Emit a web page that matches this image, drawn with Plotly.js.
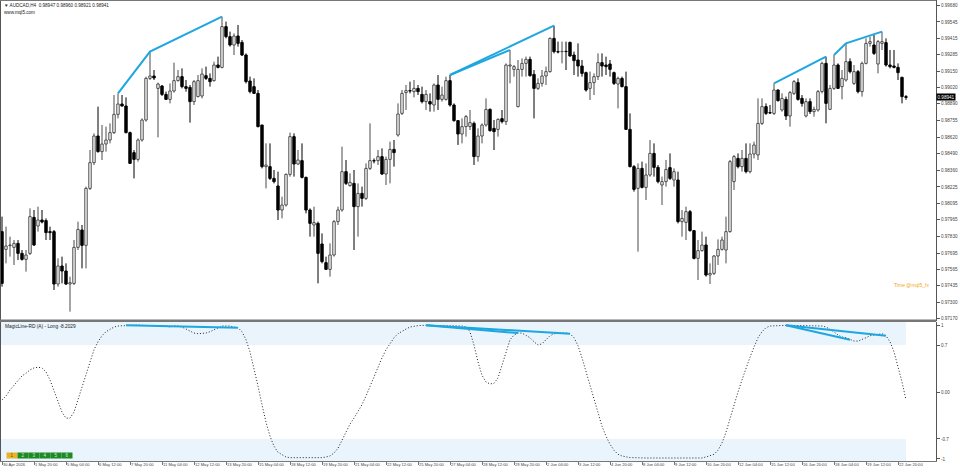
<!DOCTYPE html>
<html>
<head>
<meta charset="utf-8">
<script src="https://cdn.plot.ly/plotly-3.0.1.min.js"></script>
<style>html,body{margin:0;padding:0;background:#fff;}#chart{width:960px;height:472px;}</style>
</head>
<body>
<div id="chart"></div>
<script>
// ---------------- DATA ----------------
const openP = [0.97867,0.97725,0.97755,0.97741,0.97773,0.97693,0.97645,0.97693,0.97981,0.97912,
0.97960,0.97955,0.97867,0.97867,0.97448,0.97592,0.97552,0.97448,0.97453,0.97741,
0.97880,0.97757,0.98213,0.98419,0.98632,0.98507,0.98568,0.98600,0.98659,0.98805,
0.98888,0.98872,0.98659,0.98499,0.98445,0.98600,0.98760,0.99093,0.99112,0.99013,
0.99032,0.98965,0.98925,0.98992,0.99075,0.99107,0.99027,0.99021,0.98907,0.98947,
0.98952,0.99115,0.99093,0.99075,0.99200,0.99181,0.99507,0.99427,0.99360,0.99432,
0.99381,0.99280,0.99072,0.99027,0.98973,0.98720,0.98387,0.98387,0.98293,0.98232,
0.98040,0.98080,0.98325,0.98627,0.98408,0.98435,0.98301,0.98040,0.97920,0.97933,
0.97768,0.97619,0.97565,0.97680,0.97947,0.98040,0.98347,0.98235,0.98253,0.98067,
0.98173,0.98133,0.98373,0.98435,0.98435,0.98467,0.98328,0.98445,0.98525,0.98640,
0.98813,0.98979,0.98995,0.98987,0.99013,0.98965,0.98907,0.98907,0.98880,0.99040,
0.98925,0.98925,0.99075,0.98880,0.98755,0.98648,0.98707,0.98707,0.98733,0.98467,
0.98632,0.98720,0.98845,0.98693,0.98685,0.98771,0.98747,0.99192,0.99165,0.98867,
0.99165,0.99213,0.99245,0.99125,0.99013,0.99053,0.99112,0.99147,0.99413,0.99307,
0.99307,0.99309,0.99381,0.99280,0.99240,0.99192,0.99139,0.99013,0.99059,0.99107,
0.99219,0.99200,0.99208,0.99139,0.99048,0.99093,0.99027,0.98685,0.98387,0.98213,
0.98373,0.98221,0.98320,0.98493,0.98381,0.98240,0.98267,0.98379,0.98280,0.98280,
0.97947,0.97941,0.98027,0.97875,0.97653,0.97715,0.97760,0.97520,0.97533,0.97672,
0.97725,0.97720,0.97867,0.98267,0.98453,0.98387,0.98453,0.98347,0.98488,0.98480,
0.98733,0.98867,0.98819,0.98813,0.99000,0.98840,0.98925,0.98792,0.98973,0.99059,
0.98933,0.98792,0.98907,0.98827,0.98840,0.98987,0.99213,0.98845,0.99013,0.99200,
0.99027,0.99080,0.99227,0.99053,0.99147,0.98987,0.99213,0.99373,0.99360,0.99208,
0.99373,0.99379,0.99200,0.99192,0.99181,0.99101,0.98947];
const highP = [0.97987,0.97907,0.97827,0.97800,0.97800,0.97720,0.97720,0.98053,0.98040,0.98067,
0.98040,0.97973,0.97907,0.97880,0.97653,0.97667,0.97613,0.97507,0.97800,0.97947,
0.97920,0.98227,0.98520,0.98653,0.98867,0.98720,0.98707,0.98733,0.98960,0.98973,
0.98960,0.98941,0.98667,0.98520,0.98613,0.98773,0.99107,0.99307,0.99160,0.99059,
0.99040,0.98987,0.99053,0.99219,0.99160,0.99173,0.99080,0.99040,0.99080,0.99120,
0.99173,0.99187,0.99133,0.99227,0.99267,0.99587,0.99547,0.99467,0.99453,0.99520,
0.99400,0.99293,0.99107,0.99093,0.99000,0.98720,0.98573,0.98573,0.98360,0.98347,
0.98147,0.98333,0.98659,0.98653,0.98520,0.98573,0.98307,0.98053,0.98067,0.97947,
0.97853,0.97667,0.97773,0.97960,0.98067,0.98547,0.98440,0.98333,0.98360,0.98253,
0.98227,0.98413,0.98733,0.98453,0.98520,0.98533,0.98467,0.98587,0.98600,0.98893,
0.99000,0.99040,0.99067,0.99080,0.99040,0.99027,0.99000,0.98973,0.99053,0.99120,
0.99027,0.99107,0.99120,0.98893,0.98760,0.98773,0.98800,0.98840,0.98747,0.98693,
0.98733,0.98933,0.98853,0.98760,0.98773,0.98840,0.99213,0.99320,0.99200,0.99240,
0.99253,0.99267,0.99267,0.99160,0.99093,0.99160,0.99187,0.99421,0.99515,0.99387,
0.99387,0.99387,0.99387,0.99307,0.99373,0.99240,0.99147,0.99147,0.99133,0.99293,
0.99293,0.99267,0.99240,0.99147,0.99107,0.99107,0.99147,0.98813,0.98400,0.98413,
0.98427,0.98413,0.98600,0.98573,0.98400,0.98307,0.98440,0.98493,0.98373,0.98347,
0.98040,0.98067,0.98040,0.97880,0.97800,0.97867,0.97827,0.97613,0.97680,0.97805,
0.97827,0.97987,0.98440,0.98480,0.98493,0.98520,0.98573,0.98573,0.98587,0.98933,
0.98933,0.98893,0.98880,0.99053,0.99005,0.98973,0.98947,0.98992,0.99080,0.99093,
0.98960,0.98933,0.98933,0.98867,0.99000,0.99227,0.99267,0.99040,0.99280,0.99213,
0.99160,0.99373,0.99253,0.99200,0.99160,0.99227,0.99413,0.99427,0.99440,0.99400,
0.99467,0.99413,0.99320,0.99320,0.99213,0.99107,0.98960];
const lowP = [0.97427,0.97613,0.97667,0.97600,0.97640,0.97635,0.97547,0.97680,0.97752,0.97867,
0.97933,0.97800,0.97800,0.97400,0.97427,0.97453,0.97440,0.97227,0.97440,0.97720,
0.97573,0.97573,0.98200,0.98400,0.98499,0.98440,0.98507,0.98573,0.98648,0.98773,
0.98867,0.98653,0.98408,0.98293,0.98427,0.98587,0.98747,0.99080,0.99080,0.98621,
0.98952,0.98920,0.98893,0.98979,0.99067,0.99013,0.98987,0.98739,0.98880,0.98941,
0.98933,0.99080,0.99027,0.99067,0.99173,0.99173,0.99413,0.99347,0.99280,0.99347,
0.99272,0.99053,0.98973,0.98968,0.98701,0.98373,0.98213,0.98280,0.98253,0.97960,
0.97973,0.98067,0.98307,0.98307,0.98400,0.98293,0.98013,0.97827,0.97827,0.97453,
0.97613,0.97560,0.97507,0.97667,0.97920,0.98027,0.98240,0.98227,0.97720,0.97827,
0.98067,0.98120,0.98360,0.98413,0.98400,0.98320,0.98240,0.98253,0.98387,0.98627,
0.98800,0.98840,0.98973,0.98941,0.98960,0.98893,0.98840,0.98827,0.98827,0.98840,
0.98907,0.98915,0.98867,0.98747,0.98560,0.98573,0.98627,0.98680,0.98400,0.98427,
0.98573,0.98707,0.98667,0.98520,0.98627,0.98733,0.98720,0.99053,0.99107,0.98861,
0.99107,0.99107,0.99107,0.98773,0.99000,0.99027,0.99040,0.99139,0.99293,0.99293,
0.99213,0.99160,0.99267,0.99120,0.99107,0.99107,0.98987,0.98920,0.98960,0.99080,
0.99107,0.99120,0.99107,0.99040,0.98853,0.99021,0.98680,0.98381,0.98187,0.97707,
0.98213,0.98120,0.98307,0.98307,0.98253,0.98080,0.98227,0.98280,0.98227,0.97933,
0.97827,0.97800,0.97867,0.97645,0.97480,0.97707,0.97507,0.97448,0.97520,0.97600,
0.97715,0.97613,0.97859,0.98200,0.98373,0.98347,0.98333,0.98333,0.98453,0.98440,
0.98720,0.98800,0.98808,0.98800,0.98907,0.98827,0.98760,0.98707,0.98960,0.98915,
0.98867,0.98781,0.98808,0.98787,0.98827,0.98973,0.98733,0.98840,0.99000,0.99008,
0.98925,0.99067,0.99133,0.99040,0.98973,0.98947,0.99205,0.99347,0.99280,0.99133,
0.99320,0.99187,0.99173,0.99173,0.99080,0.98893,0.98921];
const closeP = [0.97453,0.97752,0.97760,0.97773,0.97693,0.97645,0.97680,0.97987,0.97760,0.97960,
0.97944,0.97859,0.97859,0.97448,0.97592,0.97552,0.97448,0.97459,0.97741,0.97885,
0.97757,0.98213,0.98419,0.98632,0.98507,0.98568,0.98600,0.98659,0.98805,0.98888,
0.98872,0.98659,0.98413,0.98445,0.98600,0.98760,0.99093,0.99112,0.99096,0.99048,
0.98965,0.98925,0.98992,0.99075,0.99107,0.99027,0.99013,0.98907,0.99067,0.99075,
0.99128,0.99093,0.99067,0.99200,0.99181,0.99507,0.99427,0.99360,0.99432,0.99373,
0.99280,0.99067,0.98987,0.98973,0.98707,0.98387,0.98400,0.98293,0.98267,0.98040,
0.98080,0.98325,0.98627,0.98408,0.98440,0.98301,0.98040,0.97933,0.97939,0.97693,
0.97627,0.97565,0.97680,0.97947,0.98040,0.98347,0.98253,0.98261,0.98067,0.98173,
0.98133,0.98373,0.98435,0.98432,0.98467,0.98328,0.98445,0.98525,0.98499,0.98808,
0.98973,0.98995,0.98992,0.99013,0.98987,0.98907,0.98965,0.98888,0.99040,0.98925,
0.98960,0.99075,0.98880,0.98755,0.98648,0.98707,0.98787,0.98739,0.98467,0.98632,
0.98720,0.98845,0.98675,0.98667,0.98765,0.98747,0.99200,0.99200,0.99187,0.99165,
0.99213,0.99245,0.99115,0.99013,0.99053,0.99112,0.99147,0.99413,0.99307,0.99304,
0.99309,0.99307,0.99272,0.99235,0.99192,0.99133,0.99000,0.99059,0.99107,0.99219,
0.99192,0.99187,0.99165,0.99053,0.99093,0.99027,0.98685,0.98387,0.98205,0.98373,
0.98221,0.98320,0.98493,0.98381,0.98267,0.98267,0.98365,0.98293,0.98347,0.97947,
0.97973,0.98027,0.97875,0.97653,0.97715,0.97760,0.97520,0.97533,0.97672,0.97725,
0.97800,0.97867,0.98427,0.98467,0.98387,0.98453,0.98347,0.98488,0.98560,0.98733,
0.98867,0.98813,0.98816,0.99000,0.98915,0.98933,0.98792,0.98979,0.99067,0.98925,
0.98893,0.98907,0.98827,0.98845,0.98987,0.99213,0.98893,0.99013,0.99200,0.99013,
0.99093,0.99227,0.99147,0.99147,0.98987,0.99213,0.99373,0.99387,0.99293,0.99387,
0.99387,0.99200,0.99187,0.99181,0.99139,0.98947,0.98941];

// MagicLine-RD oscillator values (per bar)
const magicLine = [-0.12,-0.06,0.03,0.10,0.18,0.24,0.28,0.33,0.36,0.37,
0.36,0.30,0.18,0.03,-0.15,-0.30,-0.39,-0.39,-0.30,-0.12,
0.06,0.25,0.45,0.63,0.75,0.84,0.90,0.94,0.97,0.985,
0.99,0.995,1.0,1.0,1.0,0.995,0.995,0.99,0.99,0.99,
0.99,0.985,0.97,0.985,0.985,0.97,0.94,0.91,0.88,0.87,
0.87,0.88,0.90,0.93,0.96,0.985,0.985,0.985,0.97,0.96,
0.90,0.78,0.60,0.36,0.09,-0.19,-0.45,-0.66,-0.81,-0.90,
-0.94,-0.97,-0.98,-0.98,-0.985,-0.985,-0.985,-0.985,-0.985,-0.98,
-0.98,-0.97,-0.955,-0.91,-0.84,-0.72,-0.60,-0.48,-0.39,-0.30,
-0.19,-0.06,0.09,0.24,0.39,0.51,0.63,0.73,0.81,0.87,
0.91,0.94,0.97,0.985,0.99,0.995,0.995,0.995,0.995,0.995,
0.995,0.99,0.99,0.99,0.99,0.985,0.97,0.90,0.70,0.45,
0.25,0.15,0.12,0.13,0.21,0.39,0.60,0.78,0.85,0.88,
0.88,0.85,0.81,0.75,0.70,0.72,0.78,0.84,0.87,0.88,
0.88,0.88,0.87,0.81,0.69,0.51,0.30,0.09,-0.12,-0.33,
-0.51,-0.66,-0.78,-0.87,-0.93,-0.955,-0.97,-0.98,-0.98,-0.985,
-0.985,-0.985,-0.985,-0.985,-0.985,-0.985,-0.985,-0.985,-0.985,-0.985,
-0.985,-0.985,-0.985,-0.985,-0.985,-0.985,-0.97,-0.955,-0.93,-0.87,
-0.76,-0.60,-0.39,-0.18,0.0,0.18,0.36,0.52,0.67,0.81,
0.90,0.96,0.985,0.99,0.995,0.995,0.995,0.995,0.995,0.995,
0.995,0.99,0.99,0.99,0.99,0.985,0.97,0.94,0.90,0.85,
0.82,0.81,0.78,0.76,0.76,0.78,0.81,0.84,0.85,0.87,
0.87,0.84,0.75,0.60,0.39,0.15,-0.12];

// divergence lines (bar indices) on price highs and on the oscillator
const priceDivBars = [[29,37,55],[112,127],[112,138],[193,206],[208,211,220]];
const oscDivBars = [[31,59],[106,129],[106,142],[196,212],[196,221]];

const timeLabels = ['30 Apr 2026','1 May 20:00','5 May 04:00','6 May 12:00','7 May 20:00','11 May 04:00',
'12 May 12:00','13 May 20:00','15 May 04:00','18 May 12:00','19 May 20:00','21 May 04:00','22 May 12:00',
'25 May 20:00','27 May 04:00','28 May 12:00','29 May 20:00','2 Jun 04:00','3 Jun 12:00','4 Jun 20:00',
'8 Jun 04:00','9 Jun 12:00','10 Jun 20:00','12 Jun 04:00','15 Jun 12:00','16 Jun 20:00','18 Jun 04:00',
'19 Jun 12:00','22 Jun 20:00'];
const timeLabelBars = [0,8,16,24,32,40,48,56,64,72,80,88,96,104,112,120,128,136,144,152,160,168,176,184,192,200,208,216,224];

const priceTicks = [0.99680,0.99545,0.99415,0.99285,0.99150,0.99020,0.98890,0.98755,0.98620,0.98490,
0.98360,0.98225,0.98095,0.97965,0.97830,0.97695,0.97565,0.97435,0.97300,0.97170];
const oscTicks = [1,0.7,0,-0.7,-1];
const oscTickText = ['1','0.7','0.00','-0.7','-1'];
const lastPrice = 0.98941;
const headerText = '\u25BC AUDCAD,H4  0.98947 0.98960 0.98921 0.98941';

// ---------------- LAYOUT HELPERS ----------------
const W = 960, H = 472;
const M = {l:1, r:24, t:0, b:11};
const PW = W - M.l - M.r, PH = H - M.t - M.b;
const fx = px => (px - M.l) / PW;
const fy = py => 1 - (py - M.t) / PH;
const FONT = 'Liberation Sans, Arial, sans-serif';
const TXT = '#444';
const BLUE = '#1ea6e0';
const UPC = '#4a4a4a';

const bars = openP.map((_, i) => i);
const isUp = bars.map(i => closeP[i] >= openP[i]);

function wickXY(sel) {
  const x = [], y = [];
  bars.forEach(i => {
    if (!sel(i)) return;
    const top = Math.max(openP[i], closeP[i]), bot = Math.min(openP[i], closeP[i]);
    x.push(i, i, null, i, i, null);
    y.push(highP[i], top, null, bot, lowP[i], null);
  });
  return {x, y};
}

const traces = [];
traces.push({
  type: 'bar', x: bars, base: bars.map(i => Math.min(openP[i], closeP[i])),
  y: bars.map(i => Math.abs(closeP[i] - openP[i])), width: 0.6, xaxis: 'x', yaxis: 'y',
  marker: {color: bars.map(i => isUp[i] ? '#ffffff' : '#000000'),
           line: {color: bars.map(i => isUp[i] ? UPC : '#000000'), width: 1}},
  hoverinfo: 'skip', showlegend: false
});
const wu = wickXY(i => isUp[i]), wd = wickXY(i => !isUp[i]);
traces.push({type: 'scatter', mode: 'lines', x: wu.x, y: wu.y, xaxis: 'x', yaxis: 'y',
  line: {color: UPC, width: 1}, hoverinfo: 'skip', showlegend: false, connectgaps: false});
traces.push({type: 'scatter', mode: 'lines', x: wd.x, y: wd.y, xaxis: 'x', yaxis: 'y',
  line: {color: '#000', width: 1}, hoverinfo: 'skip', showlegend: false, connectgaps: false});
priceDivBars.forEach(seg => {
  traces.push({type: 'scatter', mode: 'lines', x: seg, y: seg.map(i => highP[i]),
    xaxis: 'x', yaxis: 'y', line: {color: BLUE, width: 2}, hoverinfo: 'skip', showlegend: false});
});
traces.push({type: 'scatter', mode: 'lines', x: bars, y: magicLine, xaxis: 'x', yaxis: 'y2',
  line: {color: '#222', width: 1, dash: '1px,2px'}, hoverinfo: 'skip', showlegend: false});
oscDivBars.forEach(seg => {
  traces.push({type: 'scatter', mode: 'lines', x: seg, y: seg.map(i => magicLine[i]),
    xaxis: 'x', yaxis: 'y2', line: {color: BLUE, width: 2}, hoverinfo: 'skip', showlegend: false});
});

const lastBar = bars.length - 1;
const shapes = [
  {type:'rect', xref:'x', yref:'y2', x0:-0.25, x1:lastBar, y0:0.7, y1:1.05, fillcolor:'#e9f4fd', line:{width:0}, layer:'below'},
  {type:'rect', xref:'x', yref:'y2', x0:-0.25, x1:lastBar, y0:-1.04, y1:-0.7, fillcolor:'#e9f4fd', line:{width:0}, layer:'below'},
  {type:'rect', xref:'paper', yref:'paper', x0:fx(0), x1:fx(936), y0:fy(322), y1:fy(319.5), fillcolor:'#777', line:{width:0}},
  {type:'line', xref:'paper', yref:'paper', x0:fx(0), x1:fx(936), y0:fy(0.5), y1:fy(0.5), line:{color:'#777', width:1}},
];

const annotations = [
  {xref:'paper', yref:'paper', x:fx(2), y:fy(5), xanchor:'left', yanchor:'middle', showarrow:false,
   text: headerText, font:{family:FONT, size:4.6, color:'#222'}},
  {xref:'paper', yref:'paper', x:fx(2), y:fy(13), xanchor:'left', yanchor:'middle', showarrow:false,
   text: 'www.mql5.com', font:{family:FONT, size:4.6, color:'#222'}},
  {xref:'paper', yref:'paper', x:fx(3), y:fy(326), xanchor:'left', yanchor:'middle', showarrow:false,
   text: 'MagicLine-RD (A) - Long -8.2029', font:{family:FONT, size:4.8, color:'#222'}},
  {xref:'paper', yref:'paper', x:fx(931), y:fy(285), xanchor:'right', yanchor:'middle', showarrow:false,
   text: 'Time @mql5_fx', font:{family:FONT, size:5, color:'#f5a623'}},
  {xref:'paper', yref:'y', x:1, y:lastPrice, xanchor:'left', yanchor:'middle', showarrow:false,
   text: lastPrice.toFixed(5), bgcolor:'#000', borderpad:0.5, font:{family:FONT, size:4.6, color:'#fff'}},
];
['1','2','3','4','5','6'].forEach((t, k) => {
  annotations.push({xref:'paper', yref:'paper', x:fx(11.5 + 11*k), y:fy(455), xanchor:'center', yanchor:'middle',
    showarrow:false, text:t, width:10, height:5, borderpad:0,
    bgcolor: k === 0 ? '#e8b428' : '#1f8a24', font:{family:FONT, size:4.5, color: k === 0 ? '#6a4a00' : '#cfeecf'}});
});

const layout = {
  width: W, height: H, margin: M, paper_bgcolor: '#fff', plot_bgcolor: '#fff',
  showlegend: false, barmode: 'overlay', font: {family: FONT, size: 5, color: TXT},
  xaxis: {anchor: 'y2', range: [-0.25, 233.5], tickvals: timeLabelBars, ticktext: timeLabels,
    tickangle: 0, ticks: 'outside', ticklen: 3, tickcolor: '#777', ticklabelposition: 'outside right',
    ticklabelstandoff: -1,
    tickfont: {family: FONT, size: 4.1, color: TXT}, showgrid: false, zeroline: false,
    showline: true, linecolor: '#777', linewidth: 1, fixedrange: true},
  yaxis: {domain: [fy(321), 1], range: [0.9972 - 321*0.00008, 0.9972], side: 'right',
    tickvals: priceTicks, ticktext: priceTicks.map(v => v.toFixed(5)), ticks: 'outside', ticklen: 3,
    tickcolor: '#555', tickfont: {family: FONT, size: 4.6, color: TXT}, showgrid: false, zeroline: false,
    showline: true, linecolor: '#555', linewidth: 1, mirror: true, fixedrange: true},
  yaxis2: {domain: [0, fy(322)], range: [-1.03, 1.045], side: 'right',
    tickvals: oscTicks, ticktext: oscTickText, ticks: 'outside', ticklen: 3,
    tickcolor: '#555', tickfont: {family: FONT, size: 4.6, color: TXT}, showgrid: false, zeroline: false,
    showline: true, linecolor: '#555', linewidth: 1, mirror: true, fixedrange: true},
  shapes: shapes, annotations: annotations
};

Plotly.newPlot('chart', traces, layout, {staticPlot: true, displayModeBar: false});
</script>
</body>
</html>
